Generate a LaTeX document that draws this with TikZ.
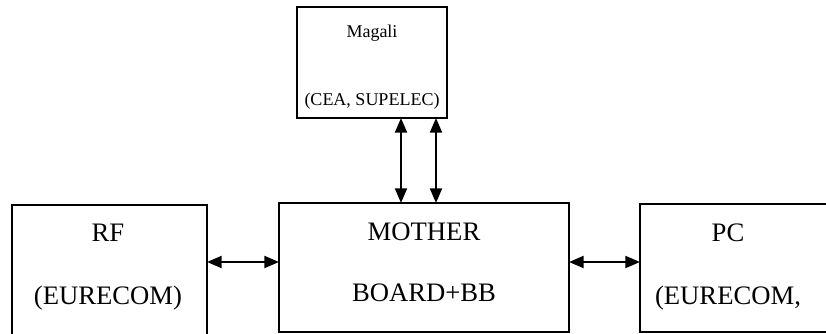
\documentclass[tikz,border=0pt]{standalone}
\usepackage{fontspec}
\setmainfont{Liberation Serif}
\usetikzlibrary{arrows.meta}
\begin{document}
\begin{tikzpicture}[x=0.75pt, y=-0.75pt,
		box/.style={draw, line width=1.1pt, rectangle, inner sep=0pt, outer sep=0pt},
		biarrow/.style={{Triangle[length=11pt, width=9pt]}-{Triangle[length=11pt, width=9pt]}, line width=1.5pt},
		big/.style={font=\fontsize{20}{24}\selectfont, anchor=base, inner sep=0pt},
		small/.style={font=\fontsize{13.5}{16}\selectfont, anchor=base, inner sep=0pt}]
				\clip (0,0) rectangle (826,333);
				
				\node[box, minimum width=112.5pt, minimum height=83.25pt] (magali) at (372, 62.5) {};
				\node[small] (magali-a) at (372, 37) {Magali};
				\node[small] (magali-b) at (372, 105) {(CEA, SUPELEC)};
				
				\node[box, minimum width=217.5pt, minimum height=96.75pt] (mother) at (424, 267.5) {};
				\node[big] (mother-a) at (424, 240) {MOTHER};
				\node[big] (mother-b) at (424, 301) {BOARD+BB};
				
				\node[box, minimum width=146.25pt, minimum height=101.25pt] (rf) at (109.5, 272.5) {};
				\node[big] (rf-a) at (108, 241) {RF};
				\node[big] (rf-b) at (108, 304) {(EURECOM)};
				
				\node[box, minimum width=150pt, minimum height=96pt] (pc) at (740, 268) {};
				\node[big] (pc-a) at (728, 241) {PC};
				\node[big] (pc-b) at (728, 304) {(EURECOM,};
				
				\coordinate (lnk) at (0, 262);
				\coordinate (up1) at (401, 0);
				\coordinate (up2) at (436, 0);
				
				\draw[biarrow] (rf.east |- lnk) -- (mother.west |- lnk);
				\draw[biarrow] (mother.east |- lnk) -- (pc.west |- lnk);
				
				\draw[biarrow] (magali.south -| up1) -- (mother.north -| up1);
				\draw[biarrow] (magali.south -| up2) -- (mother.north -| up2);
\end{tikzpicture}
\end{document}
